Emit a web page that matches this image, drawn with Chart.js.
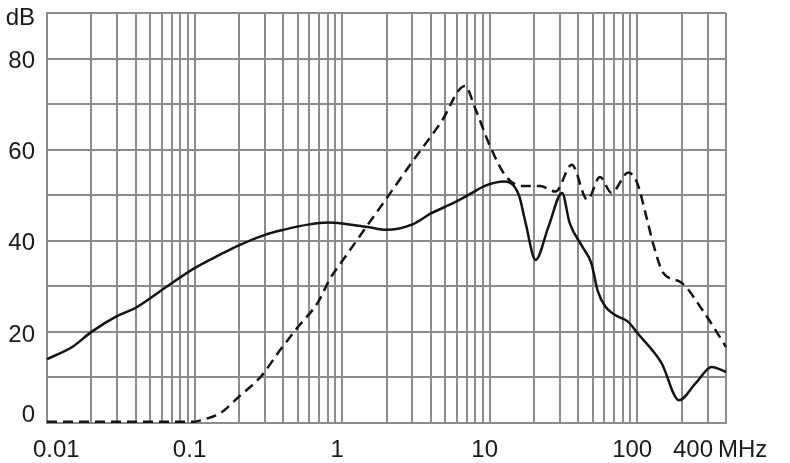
<!DOCTYPE html>
<html>
<head>
<meta charset="utf-8">
<script src="https://cdn.jsdelivr.net/npm/chart.js@4/dist/chart.umd.min.js"></script>
<style>
  html, body { margin: 0; padding: 0; background: #fff; }
  #wrap { width: 790px; height: 463px; }
</style>
</head>
<body>
<div id="wrap"><canvas id="chart"></canvas></div>
<script>
// solid curve
const solidFreq = [0.01, 0.015, 0.02, 0.03, 0.04, 0.06, 0.1, 0.15, 0.2, 0.3, 0.4, 0.6, 0.8, 1, 1.5, 2, 3, 4, 5.7, 7.6, 9.2, 12.6, 15.8, 17.5, 20.5, 25, 31, 34.8, 42.5, 49, 54, 61, 71, 87, 100, 146, 192, 250, 320, 400]
const solidDb = [14, 16.8, 20, 23.5, 25.3, 29.2, 34, 37, 39, 41.3, 42.4, 43.6, 44, 43.8, 43, 42.4, 43.6, 46, 48.3, 50.5, 52, 53, 50, 44, 35.8, 43, 50.5, 44, 38.7, 35, 29, 25.5, 23.7, 22.2, 19.8, 13.2, 5, 8.8, 12.3, 11.2]
// dashed curve
const dashFreq = [0.01, 0.03, 0.1, 0.11, 0.15, 0.2, 0.28, 0.38, 0.5, 0.68, 0.84, 1, 1.5, 2, 3, 4.7, 6.8, 8, 10, 13, 17, 22, 28, 36, 46, 56, 67, 87, 100, 116, 130, 150, 200, 277, 400]
const dashDb = [0.3, 0.3, 0.3, 0.6, 2.2, 5.8, 10.1, 16, 21, 26.3, 32, 35.5, 43.6, 49.3, 57.4, 66.1, 74, 69, 61, 54, 52, 52, 50.8, 56.7, 49, 54, 50.5, 55, 52.7, 45, 38.7, 33, 30.8, 24.8, 16.7]

const yLabels = [0, 20, 40, 60, 80]
const yUnit = 'dB'
const xLabelValues = [0.01, 0.1, 1, 10, 100, 400]
const xLabels = ['0.01', '0.1', '1', '10', '100', '400']
const xUnit = 'MHz'
const xMax = 400

// vertical grid: 1..9 in every decade, stopping at xMax
const xGrid = []
for (let d = 0.01; d < 101; d *= 10) {
  for (let m = 1; m < 10; m++) {
    const v = +(m * d).toPrecision(3)
    if (v <= xMax) xGrid.push(v)
  }
}

const FONT = '24px "Liberation Sans", Arial, sans-serif'

const axisText = {
  id: 'axisText',
  afterDraw(chart) {
    const ctx = chart.ctx
    const xs = chart.scales.x
    const ys = chart.scales.y
    const area = chart.chartArea
    ctx.save()
    ctx.font = FONT
    ctx.fillStyle = '#1a1a1a'
    ctx.textBaseline = 'middle'
    ctx.textAlign = 'right'
    yLabels.forEach(v => {
      let py = ys.getPixelForValue(v) + 3
      py = Math.min(py, area.bottom - 8)
      ctx.fillText(String(v), 35, py)
    })
    ctx.fillText(yUnit, 35, 18)

    ctx.textBaseline = 'alphabetic'
    const base = 457
    xLabelValues.forEach((v, i) => {
      const px = xs.getPixelForValue(v)
      if (i === 0) {
        ctx.textAlign = 'left'
        ctx.fillText(xLabels[i], px - 14, base)
      } else if (i === xLabelValues.length - 1) {
        ctx.textAlign = 'right'
        ctx.fillText(xLabels[i], px - 13, base)
        ctx.textAlign = 'left'
        ctx.fillText(xUnit, px - 8, base)
      } else {
        ctx.textAlign = 'center'
        ctx.fillText(xLabels[i], px - 5, base)
      }
    })
    ctx.restore()
  }
}

const toPoints = (fs, ds) => fs.map((f, i) => ({ x: f, y: ds[i] }))

const chart = new Chart(document.getElementById('chart'), {
  type: 'line',
  data: {
    datasets: [
      {
        data: toPoints(solidFreq, solidDb),
        borderColor: '#141414', borderWidth: 2.5,
        pointRadius: 0, cubicInterpolationMode: 'monotone', clip: 4
      },
      {
        data: toPoints(dashFreq, dashDb),
        borderColor: '#141414', borderWidth: 2.5, borderDash: [10, 6],
        pointRadius: 0, cubicInterpolationMode: 'monotone', clip: 4
      }
    ]
  },
  options: {
    responsive: true,
    maintainAspectRatio: false,
    animation: false,
    layout: { padding: { top: 13, right: 64, left: 0, bottom: 0 } },
    plugins: { legend: { display: false }, tooltip: { enabled: false } },
    scales: {
      x: {
        type: 'logarithmic', min: 0.01, max: xMax,
        afterBuildTicks: s => { s.ticks = xGrid.map(v => ({ value: v })) },
        afterFit: s => { s.height = 40 },
        ticks: { display: false },
        grid: { color: '#8c8c8c', lineWidth: 2, drawTicks: false },
        border: { color: '#8c8c8c', width: 2 }
      },
      y: {
        min: 0, max: 90,
        ticks: { display: false, stepSize: 10 },
        afterFit: s => { s.width = 47 },
        grid: { color: '#8c8c8c', lineWidth: 2, drawTicks: false },
        border: { color: '#8c8c8c', width: 2 }
      }
    }
  },
  plugins: [axisText]
})
</script>
</body>
</html>
